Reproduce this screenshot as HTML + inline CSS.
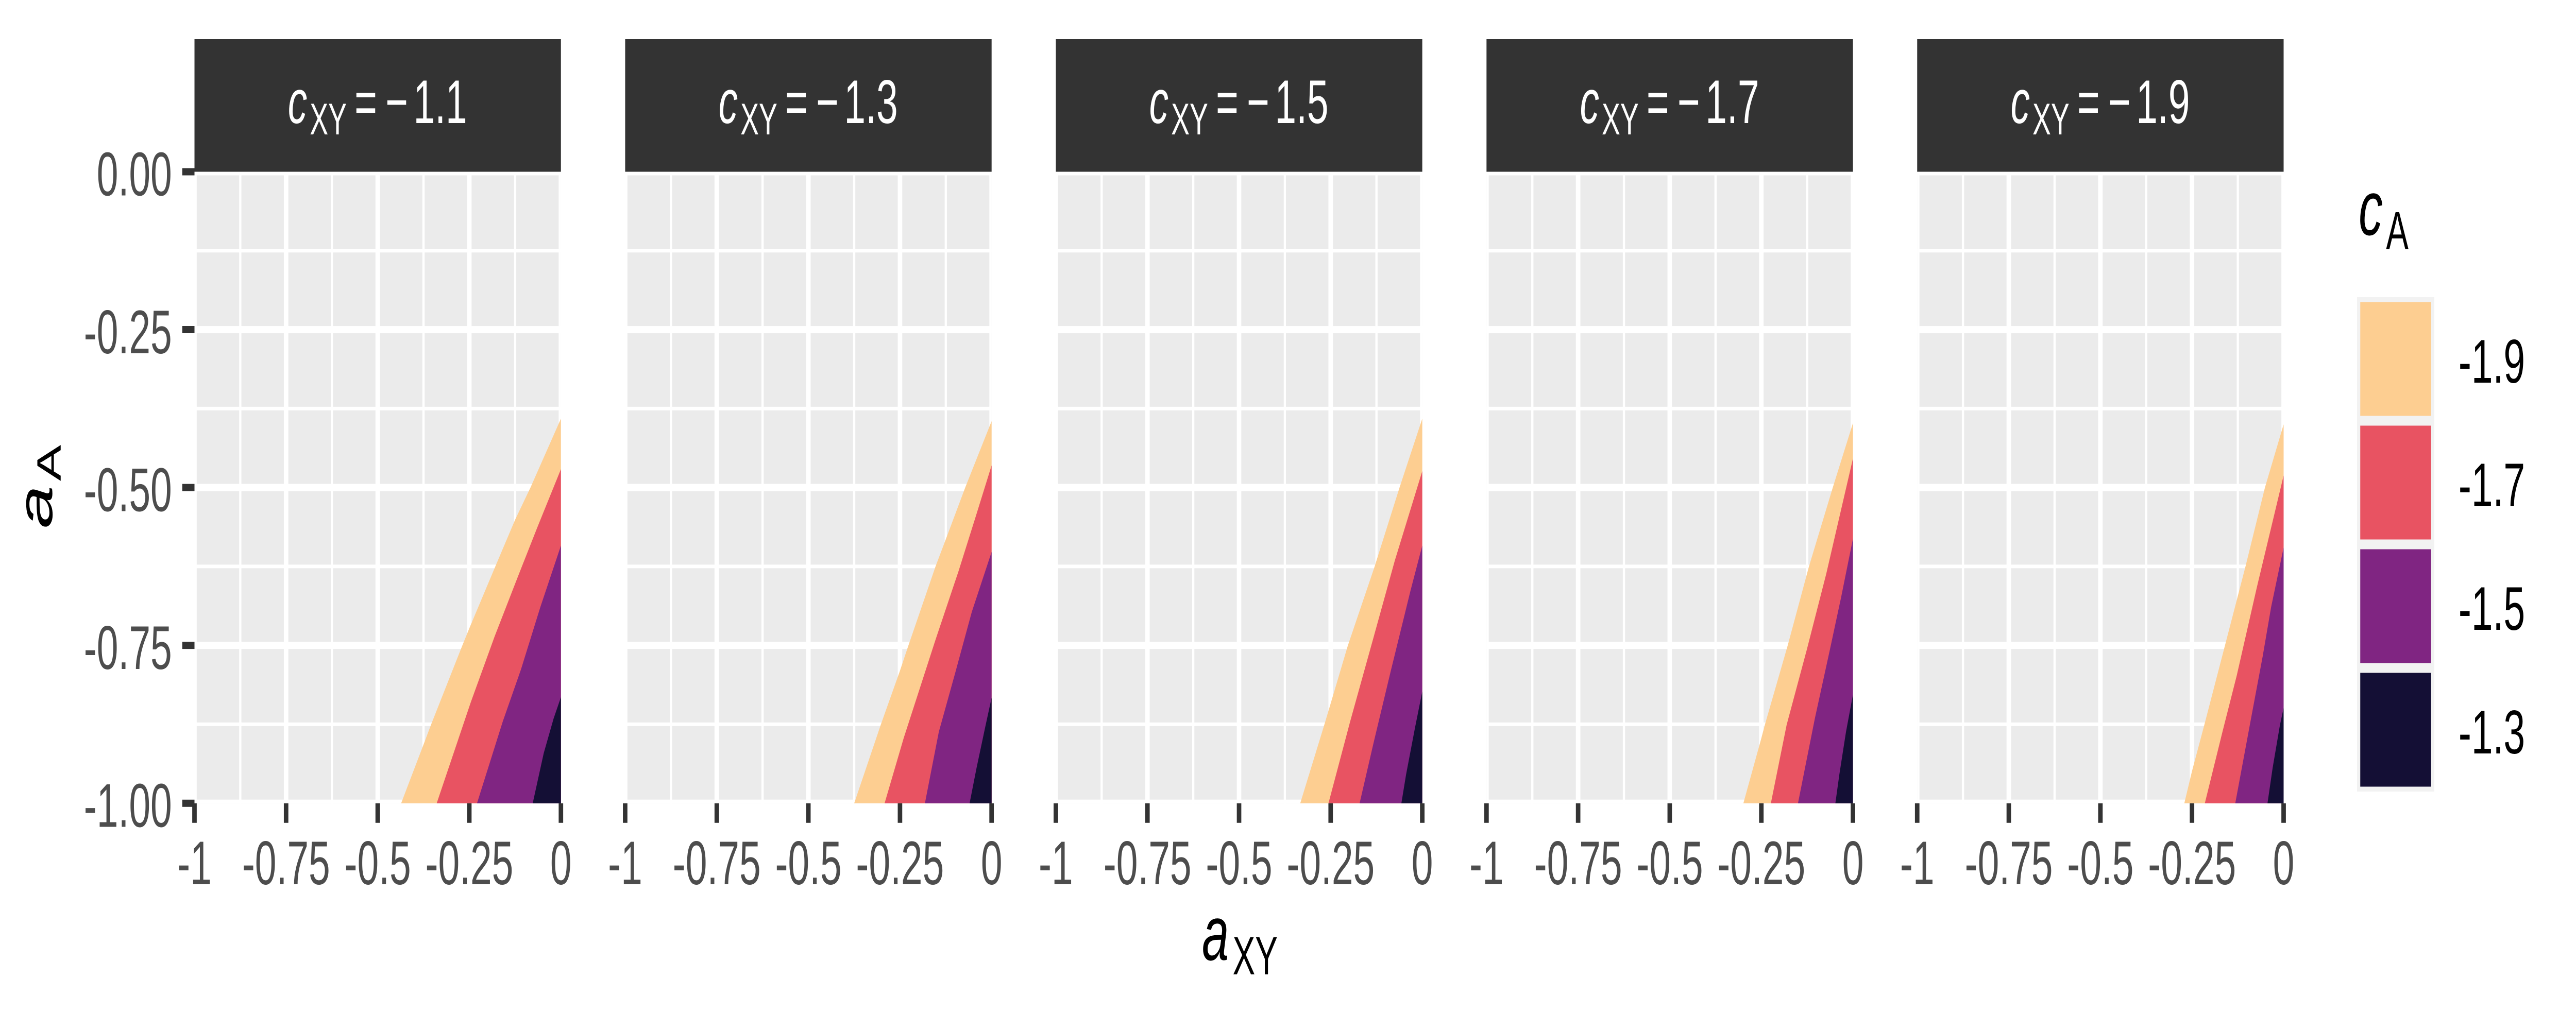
<!DOCTYPE html>
<html lang="en">
<head>
<meta charset="utf-8">
<title>Faceted region plot of aA against aXY</title>
<style>
  html, body { margin: 0; padding: 0; background: #ffffff; overflow: hidden; width: 100%; height: 100%; }
  svg { display: block; width: 100vw; height: 100vh; }
  text { font-family: "Liberation Sans", Arial, sans-serif; }
</style>
</head>
<body>
<svg id="chart" xmlns="http://www.w3.org/2000/svg" viewBox="0 0 8000 2000" preserveAspectRatio="none">
  <rect x="0" y="0" width="8000" height="2000" fill="#ffffff"/>
  <g id="panels"></g>

  <g>
    <text x="3733" y="1864" font-size="150" font-style="italic" fill="#000000">a</text>
    <text x="3828" y="1892" font-size="105" fill="#000000">XY</text>
  </g>
  <g>
    <text transform="translate(162 1026) rotate(-90)" font-size="150" font-style="italic" fill="#000000">a</text>
    <text transform="translate(189 934) rotate(-90)" font-size="105" fill="#000000">A</text>
  </g>

  <g id="legend">
    <text x="7325" y="456" font-size="150" font-style="italic" fill="#000000">c</text>
    <text x="7410" y="484" font-size="105" fill="#000000">A</text>
  </g>
</svg>

<script>
// Facets and colour levels
const facetValues = ["1.1", "1.3", "1.5", "1.7", "1.9"];
const levelLabels = ["-1.9", "-1.7", "-1.5", "-1.3"];
const levelColors = ["#FDCE91", "#E85362", "#802582", "#140F35"];

// Axis ticks
const xTicks = [-1, -0.75, -0.5, -0.25, 0];
const xTickLabels = ["-1", "-0.75", "-0.5", "-0.25", "0"];
const xMinorTicks = [-0.875, -0.625, -0.375, -0.125];
const yTicks = [0, -0.25, -0.5, -0.75, -1];
const yTickLabels = ["0.00", "-0.25", "-0.50", "-0.75", "-1.00"];
const yMinorTicks = [-0.125, -0.375, -0.625, -0.875];

// Panel cXY = -1.1: boundaries for cA = -1.9, -1.7, -1.5, -1.3
const p1a_x = [-0.436, -0.375, -0.354, -0.269, -0.250, -0.179, -0.125, -0.083, 0];
const p1a_y = [-1, -0.907, -0.875, -0.750, -0.723, -0.625, -0.551, -0.500, -0.391];
const p1b_x = [-0.339, -0.246, -0.181, -0.118, -0.065, 0];
const p1b_y = [-1, -0.840, -0.736, -0.642, -0.564, -0.471];
const p1c_x = [-0.229, -0.159, -0.109, -0.056, 0];
const p1c_y = [-1, -0.871, -0.788, -0.689, -0.592];
const p1d_x = [-0.077, -0.047, -0.020, 0];
const p1d_y = [-1, -0.921, -0.866, -0.832];

// Panel cXY = -1.3
const p2a_x = [-0.375, -0.302, -0.250, -0.227, -0.153, -0.125, -0.072, 0];
const p2a_y = [-1, -0.875, -0.790, -0.750, -0.625, -0.582, -0.500, -0.395];
const p2b_x = [-0.292, -0.240, -0.153, -0.090, -0.045, 0];
const p2b_y = [-1, -0.897, -0.741, -0.632, -0.549, -0.465];
const p2c_x = [-0.182, -0.144, -0.099, -0.054, 0];
const p2c_y = [-1, -0.887, -0.793, -0.697, -0.602];
const p2d_x = [-0.060, -0.041, -0.018, 0];
const p2d_y = [-1, -0.944, -0.881, -0.833];

// Panel cXY = -1.5
const p3a_x = [-0.333, -0.267, -0.250, -0.203, -0.130, -0.062, 0];
const p3a_y = [-1, -0.875, -0.842, -0.750, -0.625, -0.500, -0.391];
const p3b_x = [-0.256, -0.197, -0.130, -0.075, 0];
const p3b_y = [-1, -0.871, -0.731, -0.616, -0.474];
const p3c_x = [-0.171, -0.134, -0.087, -0.032, 0];
const p3c_y = [-1, -0.907, -0.793, -0.663, -0.592];
const p3d_x = [-0.057, -0.044, -0.020, 0];
const p3d_y = [-1, -0.954, -0.881, -0.823];

// Panel cXY = -1.7
const p4a_x = [-0.299, -0.250, -0.240, -0.178, -0.120, -0.055, 0];
const p4a_y = [-1, -0.897, -0.875, -0.750, -0.625, -0.500, -0.398];
const p4b_x = [-0.224, -0.181, -0.126, -0.073, 0];
const p4b_y = [-1, -0.876, -0.757, -0.637, -0.454];
const p4c_x = [-0.150, -0.104, -0.063, -0.032, 0];
const p4c_y = [-1, -0.866, -0.757, -0.673, -0.581];
const p4d_x = [-0.048, -0.037, -0.019, 0];
const p4d_y = [-1, -0.954, -0.887, -0.828];

// Panel cXY = -1.9
const p5a_x = [-0.271, -0.250, -0.216, -0.160, -0.104, -0.051, 0];
const p5a_y = [-1, -0.949, -0.875, -0.750, -0.625, -0.500, -0.400];
const p5b_x = [-0.215, -0.167, -0.128, -0.073, 0];
const p5b_y = [-1, -0.887, -0.798, -0.658, -0.481];
const p5c_x = [-0.132, -0.089, -0.057, -0.034, 0];
const p5c_y = [-1, -0.866, -0.767, -0.689, -0.595];
const p5d_x = [-0.044, -0.030, -0.010, 0];
const p5d_y = [-1, -0.944, -0.876, -0.849];

const boundaryX = [
  [p1a_x, p1b_x, p1c_x, p1d_x],
  [p2a_x, p2b_x, p2c_x, p2d_x],
  [p3a_x, p3b_x, p3c_x, p3d_x],
  [p4a_x, p4b_x, p4c_x, p4d_x],
  [p5a_x, p5b_x, p5c_x, p5d_x]
];
const boundaryY = [
  [p1a_y, p1b_y, p1c_y, p1d_y],
  [p2a_y, p2b_y, p2c_y, p2d_y],
  [p3a_y, p3b_y, p3c_y, p3d_y],
  [p4a_y, p4b_y, p4c_y, p4d_y],
  [p5a_y, p5b_y, p5c_y, p5d_y]
];

// Layout and axis functions
const NS = "http://www.w3.org/2000/svg";
const PANEL_LEFT = 604;
const PANEL_WIDTH = 1138;
const PANEL_STEP = 1337.5;
const Y_ZERO = 333.5;
const Y_SPAN = 1226.2;
const X_MIN = -1;
const X_MAX = 0;

function xScale(panel, v) {
  return PANEL_LEFT + panel * PANEL_STEP + (v - X_MIN) / (X_MAX - X_MIN) * PANEL_WIDTH;
}
function yScale(v) {
  return Y_ZERO - v * Y_SPAN;
}
function make(tag, parent) {
  const el = document.createElementNS(NS, tag);
  parent.appendChild(el);
  return el;
}
function line(el, x1, y1, x2, y2, color, width) {
  el.setAttribute("x1", x1);
  el.setAttribute("y1", y1);
  el.setAttribute("x2", x2);
  el.setAttribute("y2", y2);
  el.setAttribute("stroke", color);
  el.setAttribute("stroke-width", width);
}
function rect(el, x, y, w, h, color) {
  el.setAttribute("x", x);
  el.setAttribute("y", y);
  el.setAttribute("width", w);
  el.setAttribute("height", h);
  el.setAttribute("fill", color);
}
function label(el, x, y, size, color, anchor, content) {
  el.setAttribute("x", x);
  el.setAttribute("y", y);
  el.setAttribute("font-size", size);
  el.setAttribute("fill", color);
  el.setAttribute("text-anchor", anchor);
  el.textContent = content;
}

const panelsRoot = document.getElementById("panels");
const yBottom = yScale(-1);
const yTop = yScale(0);

facetValues.forEach(function (facet, p) {
  const g = make("g", panelsRoot);
  
  

  const left = xScale(p, X_MIN);
  const right = xScale(p, X_MAX);

  const bg = make("rect", g);
  
  
  rect(bg, left, yTop, PANEL_WIDTH, yBottom - yTop, "#EBEBEB");

  yMinorTicks.forEach(function (v) {
    const gl = make("line", g);
    
    
    line(gl, left, yScale(v), right, yScale(v), "#ffffff", 7);
  });
  xMinorTicks.forEach(function (v) {
    const gl = make("line", g);
    
    
    line(gl, xScale(p, v), yTop, xScale(p, v), yBottom, "#ffffff", 7);
  });
  yTicks.forEach(function (v) {
    const top = Math.max(yScale(v) - 7, yTop);
    const bottom = Math.min(yScale(v) + 7, yBottom);
    const gl = make("rect", g);
    
    
    rect(gl, left, top, PANEL_WIDTH, bottom - top, "#ffffff");
  });
  xTicks.forEach(function (v) {
    const a = Math.max(xScale(p, v) - 7, left);
    const b = Math.min(xScale(p, v) + 7, right);
    const gl = make("rect", g);
    
    
    rect(gl, a, yTop, b - a, yBottom - yTop, "#ffffff");
  });

  levelLabels.forEach(function (lvl, i) {
    const xs = boundaryX[p][i];
    const ys = boundaryY[p][i];
    const pts = xs.map(function (x, k) {
      return xScale(p, x).toFixed(1) + "," + yScale(ys[k]).toFixed(1);
    });
    pts.push(xScale(p, 0).toFixed(1) + "," + yScale(-1).toFixed(1));
    const poly = make("polygon", g);
    
    
    poly.setAttribute("points", pts.join(" "));
    poly.setAttribute("fill", levelColors[i]);
  });

  const strip = make("rect", g);
  
  
  rect(strip, left, 76, PANEL_WIDTH, yTop - 76, "#333333");

  const cx = left + PANEL_WIDTH / 2;
  const c = make("text", g);
  
  
  c.setAttribute("font-style", "italic");
  label(c, cx - 279, 239, 120, "#ffffff", "start", "c");
  const sub = make("text", g);
  
  
  label(sub, cx - 211, 261, 86, "#ffffff", "start", "XY");
  const eq = make("text", g);
  
  
  label(eq, cx - 72, 239, 120, "#ffffff", "start", "=");
  const minus = make("text", g);
  
  
  label(minus, cx + 24, 239, 120, "#ffffff", "start", "\u2212");
  const num = make("text", g);
  
  
  label(num, cx + 111, 239, 120, "#ffffff", "start", facet);

  xTicks.forEach(function (v, i) {
    const t = make("line", g);
    
    
    line(t, xScale(p, v), yBottom, xScale(p, v), yBottom + 38, "#333333", 14);
    const tl = make("text", g);
    
    
    label(tl, xScale(p, v), 1717, 120, "#4D4D4D", "middle", xTickLabels[i]);
  });

  if (p === 0) {
    yTicks.forEach(function (v, i) {
      const t = make("line", g);
      
      
      line(t, left - 38, yScale(v), left, yScale(v), "#333333", 14);
      const tl = make("text", g);
      
      
      label(tl, 534, yScale(v) + 46, 120, "#4D4D4D", "end", yTickLabels[i]);
    });
  }
});

const legendRoot = document.getElementById("legend");
levelLabels.forEach(function (lvl, i) {
  const top = 577 + i * 240;
  const key = make("rect", legendRoot);
  
  
  rect(key, 7320, top, 240, 240, "#F2F2F2");
  const sw = make("rect", legendRoot);
  
  
  rect(sw, 7330, top + 9.5, 220, 221, levelColors[i]);
  const tl = make("text", legendRoot);
  
  
  label(tl, 7635, top + 166, 120, "#000000", "start", lvl);
});
</script>
</body>
</html>
